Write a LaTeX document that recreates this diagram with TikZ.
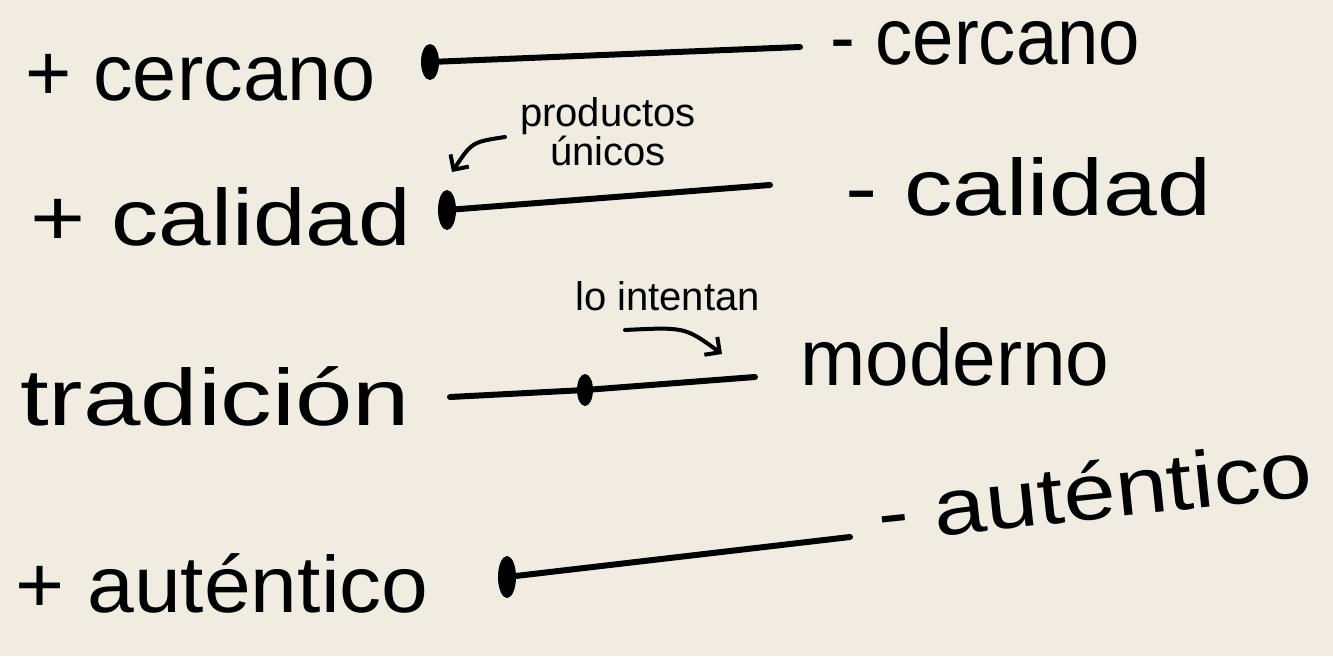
\documentclass[tikz,border=0pt]{standalone}
\usepackage{fontspec}
\setmainfont{Liberation Sans}
\usetikzlibrary{shapes.geometric,arrows.meta}
\definecolor{paper}{RGB}{240,236,226}
\begin{document}
\begin{tikzpicture}[x=1pt,y=-1pt,
  word/.style={font=\fontsize{80}{80}\selectfont, inner sep=0pt, anchor=base west},
  note/.style={font=\fontsize{40}{34}\selectfont, inner sep=0pt, align=center},
  dot/.style={ellipse, fill=black, minimum width=18pt, minimum height=36pt, inner sep=0pt},
  bar/.style={line width=6pt, line cap=round},
  pointer/.style={line width=4pt, line cap=round, -{Straight Barb[length=11pt,width=22pt,line width=4pt]}}]
\fill[paper] (0,0) rectangle (1333,656);
\useasboundingbox (0,0) rectangle (1333,656);

% row 1
\node[word] (pcercano) at (25,100) {\scalebox{0.99}[1]{+ cercano}};
\node[word] (mcercano) at (830,64) {\scalebox{0.93}[1]{- cercano}};
\coordinate (e1) at (800,47);
\node[dot] (d1) at (430,62) {};
\draw[bar] (d1.center) -- (e1);

% row 2
\node[word] (pcalidad) at (30,245) {\scalebox{1.18}[1]{+ calidad}};
\node[word] (mcalidad) at (845,215) {\scalebox{1.21}[1]{- calidad}};
\coordinate (e2) at (770,185);
\node[dot, minimum height=40pt] (d2) at (447,210) {};
\draw[bar] (d2.center) -- (e2);
\node[note] (prod) at (608,132) {productos\\únicos};
\coordinate (pa) at (505,137);
\coordinate (pb) at (452,172);
\draw[pointer] (pa) .. controls (472,142) .. (pb);

% row 3
\node[word] (trad) at (20,425) {\scalebox{1.29}[1]{tradición}};
\node[word] (mod) at (800,385) {\scalebox{0.98}[1]{moderno}};
\coordinate (t0) at (450,397);
\coordinate (t1) at (755,377);
\node[dot, minimum width=16pt, minimum height=32pt] (d3) at (585,390) {};
\draw[bar] (t0) -- (d3.center) -- (t1);
\node[note, anchor=base west] (intent) at (575,310) {lo intentan};
\coordinate (la) at (625,330);
\coordinate (lb) at (722,354);
\draw[pointer] (la) .. controls (685,327) .. (lb);

% row 4
\node[word] (paut) at (15,612) {\scalebox{1.05}[1]{+ auténtico}};
\node[word, rotate=6] (maut) at (880,542) {\scalebox{1.17}[1]{- auténtico}};
\coordinate (e4) at (850,537);
\node[dot, minimum height=42pt] (d4) at (507,577) {};
\draw[bar] (d4.center) -- (e4);
\end{tikzpicture}
\end{document}
